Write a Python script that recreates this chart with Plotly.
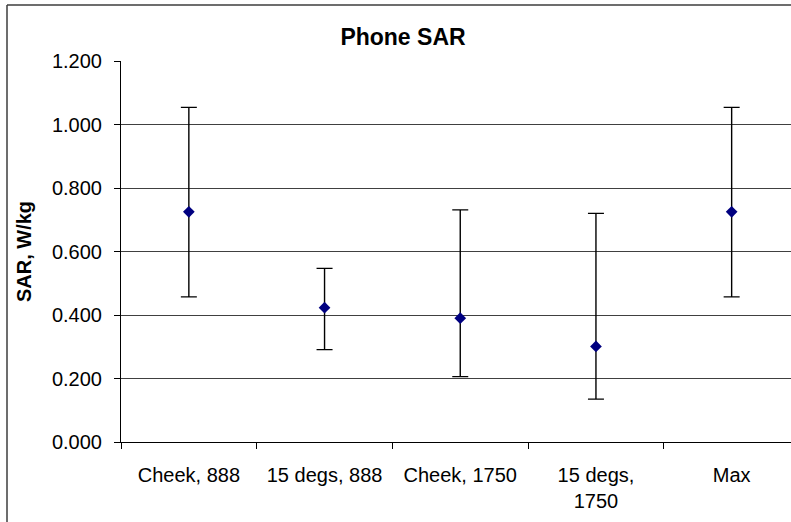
import plotly.graph_objects as go

categories = ["Cheek, 888", "15 degs, 888", "Cheek, 1750", "15 degs,<br>1750", "Max"]
sar_values = [0.725, 0.423, 0.390, 0.301, 0.725]
sar_upper = [1.054, 0.547, 0.731, 0.720, 1.054]
sar_lower = [0.457, 0.291, 0.206, 0.135, 0.457]
y_ticks = [0.0, 0.2, 0.4, 0.6, 0.8, 1.0, 1.2]

err_plus = [u - v for u, v in zip(sar_upper, sar_values)]
err_minus = [v - l for v, l in zip(sar_values, sar_lower)]

FONT = "Arial, 'Liberation Sans', sans-serif"

W, H = 791, 522
L, R, T, B = 121, 0, 61, 80
pw, ph = W - L - R, H - T - B

fig = go.Figure()
fig.add_trace(go.Scatter(
    x=categories, y=sar_values, mode="markers",
    marker=dict(symbol="diamond", size=9, color="#000080"),
    error_y=dict(type="data", symmetric=False, array=err_plus, arrayminus=err_minus,
                 color="black", thickness=1.4, width=8),
    showlegend=False,
))

def px_x(p):
    return (p - L) / pw

def px_y(p):
    return (H - B - p) / ph

border = dict(color="#3c3c3c", width=1.5)

fig.update_layout(
    width=W, height=H,
    margin=dict(l=L, r=R, t=T, b=B),
    paper_bgcolor="white", plot_bgcolor="white",
    font=dict(family=FONT, size=20, color="black"),
    title=dict(text="<b>Phone SAR</b>", x=403 / W, xref="container", xanchor="center",
               y=1 - 36.5 / H, yref="container", yanchor="middle",
               font=dict(family=FONT, size=23, color="black")),
    xaxis=dict(
        type="category", range=[-0.5, -0.5 + pw / 135.7],
        tickson="boundaries", ticks="outside", ticklen=6, tickcolor="black", tickwidth=1,
        showline=True, linecolor="black", linewidth=1,
        showgrid=False, zeroline=False,
        tickfont=dict(family=FONT, size=20, color="black"),
        ticklabelstandoff=15,
    ),
    yaxis=dict(
        range=[0, 1.2], tickvals=y_ticks, tickformat=".3f",
        ticks="outside", ticklen=6, tickcolor="black", tickwidth=1,
        showline=True, linecolor="black", linewidth=1,
        showgrid=True, gridcolor="#404040", gridwidth=1, zeroline=False,
        tickfont=dict(family=FONT, size=20, color="black"),
        ticklabelstandoff=8,
        title=dict(text="<b>SAR, W/kg</b>", font=dict(family=FONT, size=20, color="black"),
                   standoff=14),
    ),
    shapes=[
        dict(type="line", xref="paper", yref="paper",
             x0=px_x(7), x1=px_x(7), y0=px_y(5), y1=px_y(540), line=border, layer="above"),
        dict(type="line", xref="paper", yref="paper",
             x0=px_x(7), x1=px_x(800), y0=px_y(5), y1=px_y(5), line=border, layer="above"),
    ],
)

fig.write_html("out.html")
